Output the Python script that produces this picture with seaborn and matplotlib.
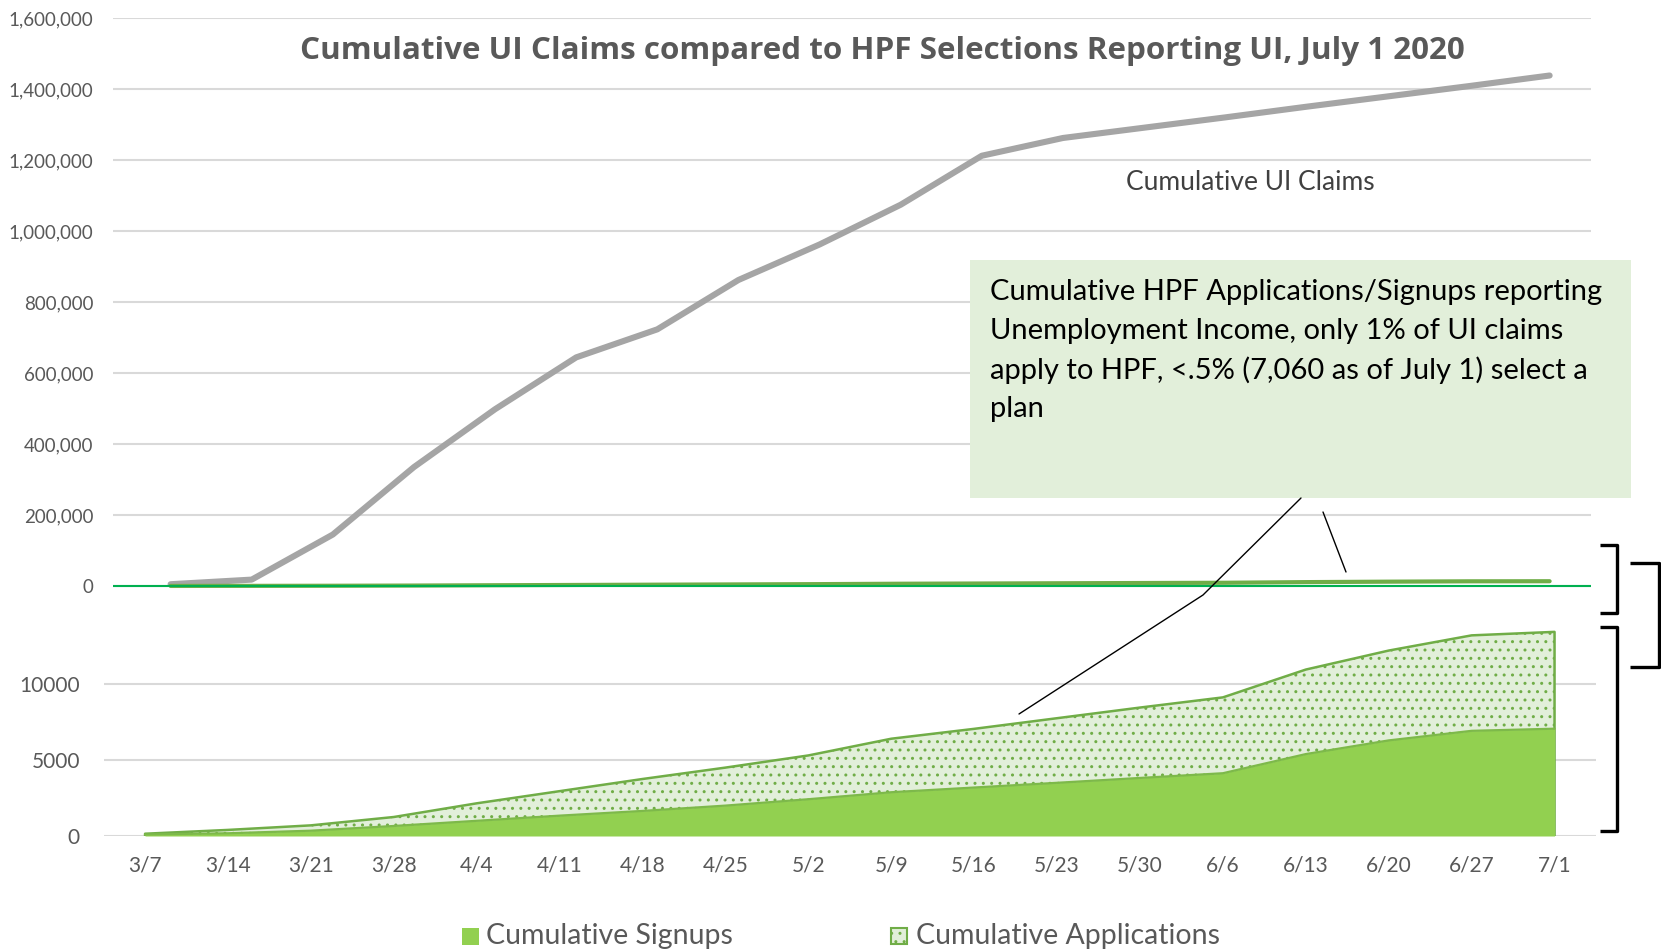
import numpy as np
import pandas as pd
import seaborn as sns
import matplotlib.pyplot as plt
from matplotlib.patches import Rectangle
from matplotlib.ticker import FuncFormatter

dates = ['3/7', '3/14', '3/21', '3/28', '4/4', '4/11', '4/18', '4/25', '5/2',
         '5/9', '5/16', '5/23', '5/30', '6/6', '6/13', '6/20', '6/27', '7/1']
ui_claims = [5000, 18000, 145000, 335000, 498000, 644000, 723000, 862000, 962000,
             1074000, 1212000, 1262000, 1291000, 1320000, 1350000, 1379000, 1408000, 1438000]
signups = [100, 180, 350, 660, 1000, 1340, 1650, 2000, 2420,
           2880, 3190, 3500, 3820, 4130, 5390, 6290, 6920, 7060]
applications = [150, 400, 700, 1250, 2150, 2950, 3750, 4500, 5300,
                6400, 7050, 7750, 8450, 9120, 10950, 12200, 13200, 13430]

title = 'Cumulative UI Claims compared to HPF Selections Reporting UI, July 1 2020'
note_lines = ['Cumulative HPF Applications/Signups reporting',
              'Unemployment Income, only 1% of UI claims',
              'apply to HPF, <.5% (7,060 as of July 1) select a',
              'plan']

sns.set_theme(style='white')
plt.rcParams['font.family'] = ['Lato', 'DejaVu Sans']
plt.rcParams['hatch.color'] = '#70AD47'
plt.rcParams['hatch.linewidth'] = 1.0

W, H = 1661, 951
GRID = '#D9D9D9'
LABEL = '#595959'
SIGN_C = '#92D050'
APP_C = '#E2EFDA'
APP_EDGE = '#70AD47'


def px_box(x0, y0, x1, y1):
    return [x0 / W, 1 - y1 / H, (x1 - x0) / W, (y1 - y0) / H]


def clean(ax):
    for s in ax.spines.values():
        s.set_visible(False)
    ax.set_xlabel('')
    ax.set_ylabel('')
    ax.set_facecolor('none')


df = pd.DataFrame({'x': np.arange(len(dates)), 'date': dates, 'ui': ui_claims,
                   'signups': signups, 'apps': applications})

fig = plt.figure(figsize=(W / 100, H / 100), dpi=100)

# upper panel: UI claims on a 0-1.6M scale
ax_top = fig.add_axes(px_box(113, 18, 1591, 600))
ax_top.set_axisbelow(True)
ax_top.grid(axis='y', color=GRID, lw=1.5)
sns.lineplot(data=df, x='x', y='ui', ax=ax_top, color='#A5A5A5', lw=4.4, zorder=3)
sns.lineplot(data=df, x='x', y='apps', ax=ax_top, color=APP_EDGE, lw=3, zorder=4)
ax_top.axhline(0, color='#00B050', lw=1.5, zorder=5)
ax_top.set_xlim(-0.71, 17.51)
ax_top.set_ylim(-1.6e6 * 14 / 568, 1.6e6)
ax_top.set_yticks(np.arange(0, 1600001, 200000))
ax_top.yaxis.set_major_formatter(FuncFormatter(lambda v, p: f'{int(v):,}'))
ax_top.set_xticks([])
ax_top.tick_params(axis='y', length=0, pad=14, labelsize=13.5, labelcolor=LABEL)
clean(ax_top)

# lower panel: HPF applications and signups
ax_bot = fig.add_axes(px_box(103.6, 598, 1596, 836))
ax_bot.set_axisbelow(True)
ax_bot.grid(axis='y', color=GRID, lw=1.5)
ax_bot.fill_between(df['x'], df['apps'], facecolor=APP_C, edgecolor=APP_EDGE,
                    hatch='..', lw=1.8, zorder=2)
ax_bot.fill_between(df['x'], df['signups'], facecolor=SIGN_C, lw=0, zorder=3)
sns.lineplot(data=df, x='x', y='signups', ax=ax_bot, color='#7DB94A', lw=1.6, zorder=4)
ax_bot.set_xlim(-0.5, 17.5)
ax_bot.set_ylim(0, 15658)
ax_bot.set_yticks([0, 5000, 10000])
ax_bot.set_xticks(df['x'])
ax_bot.set_xticklabels(dates)
ax_bot.tick_params(axis='y', length=0, pad=17, labelsize=15, labelcolor=LABEL)
ax_bot.tick_params(axis='x', length=0, pad=14, labelsize=15, labelcolor=LABEL)
clean(ax_bot)

# overlay in pixel coordinates for the notes
ov = fig.add_axes([0, 0, 1, 1])
ov.set_xlim(0, W)
ov.set_ylim(H, 0)
ov.axis('off')
ov.set_facecolor('none')

ov.text(882, 51, title, ha='center', va='center', fontsize=22.6, fontweight='bold',
        color=LABEL, family=['Open Sans', 'DejaVu Sans'])
ov.text(1250, 182, 'Cumulative UI Claims', ha='center', va='center', fontsize=19,
        color='#404040')

ov.add_patch(Rectangle((970, 259.5), 661, 238.5, facecolor=APP_C, edgecolor='none'))
for i, line in enumerate(note_lines):
    ov.text(990, 292 + 39 * i, line, ha='left', va='center', fontsize=21, color='black')

ov.plot([1301, 1203, 1019], [498, 595, 714], color='black', lw=1)
ov.plot([1323, 1346], [512, 572], color='black', lw=1)

bk = dict(color='black', lw=2.4, solid_joinstyle='round', solid_capstyle='butt')
ov.plot([1600, 1617, 1617, 1600], [545, 545, 613, 613], **bk)
ov.plot([1600, 1617, 1617, 1600], [627, 627, 831, 831], **bk)
ov.plot([1630, 1659, 1659, 1630], [563, 563, 667, 667], **bk)

# legend drawn by hand so the two entries sit where they do in the source
ov.add_patch(Rectangle((462, 928), 17, 17, facecolor=SIGN_C, edgecolor='none'))
ov.text(486, 936, 'Cumulative Signups', ha='left', va='center', fontsize=20.5, color=LABEL)
ov.add_patch(Rectangle((891, 928), 16, 16, facecolor=APP_C, edgecolor=APP_EDGE,
                       hatch='..', lw=1.5))
ov.text(916, 936, 'Cumulative Applications', ha='left', va='center', fontsize=20.5,
        color=LABEL)

fig.savefig('out.png', dpi=100)
